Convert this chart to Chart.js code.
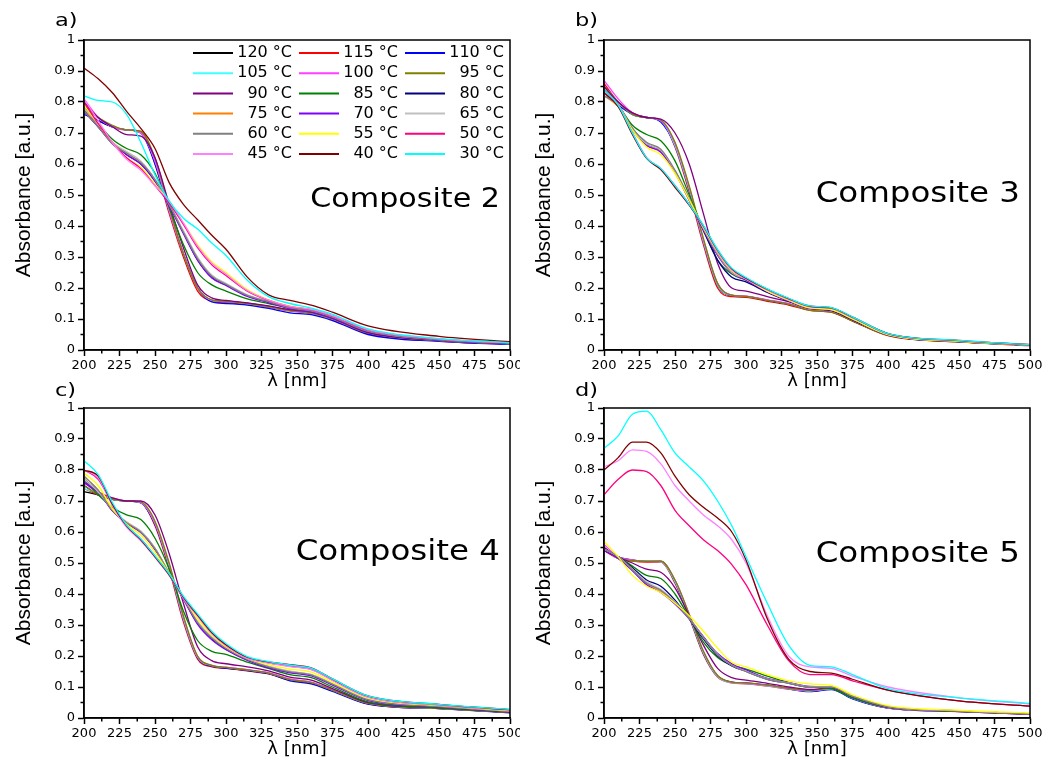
<!DOCTYPE html>
<html>
<head>
<meta charset="utf-8">
<script src="https://cdn.jsdelivr.net/npm/chart.js@4"></script>
<style>
body { margin: 0; background: #fff; }
#wrap { position: relative; width: 1042px; height: 760px; overflow: hidden; background: #fff; }
canvas { position: absolute; }
</style>
</head>
<body>
<div id="wrap">
<canvas id="panelA" width="520" height="392" style="left:0;top:0"></canvas>
<canvas id="panelB" width="522" height="392" style="left:520px;top:0"></canvas>
<canvas id="panelC" width="520" height="380" style="left:0;top:380px"></canvas>
<canvas id="panelD" width="522" height="380" style="left:520px;top:380px"></canvas>
</div>
<script>
// wavelengths (nm) at which the spectra were read
var wavelength = [200,210,220,230,240,250,260,270,280,290,300,315,330,345,360,375,400,450,500];

var temperatures = ['120 °C','115 °C','110 °C','105 °C','100 °C','95 °C','90 °C','85 °C','80 °C',
                    '75 °C','70 °C','65 °C','60 °C','55 °C','50 °C','45 °C','40 °C','30 °C'];

var lineColors = ['#000000','#ff0000','#0000ff','#40ffff','#ff40ff','#808000','#800080','#008000','#000080',
                  '#ff8000','#8000ff','#c0c0c0','#808080','#ffff00','#ff0080','#ff80ff','#800000','#00ffff'];

// absorbance, one row per temperature (same order as temperatures)
var comp2 = [
  [0.77,0.74,0.72,0.71,0.70,0.61,0.45,0.31,0.20,0.160,0.155,0.150,0.140,0.128,0.120,0.100,0.055,0.030,0.020],
  [0.79,0.75,0.72,0.71,0.705,0.60,0.44,0.30,0.19,0.158,0.153,0.148,0.138,0.126,0.118,0.098,0.053,0.029,0.019],
  [0.76,0.74,0.72,0.71,0.70,0.60,0.45,0.31,0.20,0.155,0.150,0.145,0.134,0.120,0.114,0.095,0.050,0.028,0.018],
  [0.80,0.75,0.72,0.71,0.70,0.61,0.45,0.31,0.20,0.160,0.156,0.150,0.140,0.128,0.120,0.100,0.056,0.031,0.020],
  [0.81,0.75,0.72,0.71,0.70,0.61,0.45,0.31,0.20,0.161,0.157,0.151,0.141,0.129,0.121,0.101,0.056,0.031,0.021],
  [0.78,0.75,0.725,0.71,0.705,0.62,0.46,0.31,0.20,0.162,0.157,0.150,0.140,0.127,0.120,0.100,0.055,0.030,0.020],
  [0.80,0.75,0.72,0.695,0.69,0.62,0.47,0.33,0.21,0.168,0.160,0.152,0.142,0.130,0.122,0.102,0.056,0.031,0.021],
  [0.78,0.73,0.68,0.65,0.63,0.57,0.46,0.34,0.25,0.210,0.190,0.165,0.150,0.135,0.125,0.105,0.060,0.032,0.022],
  [0.77,0.72,0.67,0.63,0.60,0.545,0.47,0.38,0.29,0.235,0.210,0.175,0.155,0.135,0.125,0.105,0.060,0.033,0.022],
  [0.78,0.72,0.67,0.635,0.605,0.55,0.47,0.38,0.295,0.240,0.212,0.176,0.156,0.136,0.126,0.106,0.061,0.033,0.022],
  [0.77,0.72,0.665,0.63,0.60,0.545,0.465,0.375,0.29,0.232,0.208,0.173,0.153,0.133,0.123,0.103,0.059,0.032,0.021],
  [0.78,0.73,0.67,0.64,0.61,0.55,0.47,0.385,0.30,0.242,0.215,0.178,0.158,0.138,0.128,0.108,0.062,0.034,0.023],
  [0.77,0.72,0.665,0.635,0.605,0.55,0.47,0.38,0.295,0.238,0.212,0.176,0.156,0.136,0.126,0.106,0.061,0.033,0.022],
  [0.79,0.73,0.67,0.62,0.59,0.535,0.48,0.41,0.34,0.285,0.250,0.195,0.162,0.142,0.132,0.112,0.066,0.036,0.024],
  [0.80,0.73,0.67,0.62,0.585,0.53,0.475,0.405,0.33,0.275,0.240,0.190,0.160,0.140,0.130,0.110,0.065,0.035,0.024],
  [0.81,0.74,0.67,0.615,0.58,0.53,0.48,0.41,0.335,0.28,0.245,0.192,0.161,0.141,0.131,0.111,0.066,0.036,0.024],
  [0.91,0.875,0.83,0.77,0.715,0.65,0.54,0.47,0.42,0.37,0.325,0.235,0.178,0.160,0.145,0.122,0.078,0.044,0.027],
  [0.82,0.805,0.80,0.76,0.67,0.565,0.48,0.425,0.39,0.345,0.305,0.225,0.172,0.150,0.135,0.115,0.068,0.037,0.024]
];

var comp3 = [
  [0.84,0.80,0.76,0.75,0.74,0.66,0.52,0.35,0.21,0.175,0.172,0.160,0.148,0.130,0.124,0.095,0.048,0.027,0.015],
  [0.86,0.80,0.765,0.75,0.74,0.655,0.51,0.34,0.20,0.172,0.170,0.157,0.145,0.128,0.122,0.093,0.046,0.026,0.014],
  [0.83,0.79,0.76,0.75,0.735,0.66,0.52,0.35,0.21,0.176,0.173,0.160,0.148,0.130,0.124,0.095,0.048,0.027,0.015],
  [0.85,0.80,0.76,0.75,0.74,0.66,0.52,0.35,0.21,0.176,0.173,0.161,0.149,0.131,0.125,0.096,0.049,0.027,0.015],
  [0.87,0.81,0.765,0.75,0.74,0.665,0.525,0.355,0.215,0.177,0.174,0.162,0.150,0.132,0.126,0.097,0.049,0.028,0.016],
  [0.85,0.80,0.76,0.75,0.742,0.67,0.53,0.36,0.215,0.177,0.173,0.160,0.148,0.128,0.122,0.094,0.047,0.026,0.015],
  [0.85,0.80,0.765,0.75,0.745,0.70,0.60,0.44,0.28,0.200,0.190,0.172,0.156,0.135,0.128,0.098,0.050,0.028,0.016],
  [0.84,0.79,0.725,0.695,0.675,0.61,0.50,0.39,0.29,0.245,0.225,0.190,0.162,0.138,0.130,0.100,0.050,0.028,0.016],
  [0.82,0.79,0.715,0.665,0.642,0.575,0.485,0.385,0.29,0.235,0.220,0.186,0.158,0.134,0.128,0.098,0.049,0.027,0.016],
  [0.82,0.785,0.71,0.66,0.64,0.575,0.485,0.39,0.31,0.252,0.228,0.190,0.160,0.135,0.130,0.100,0.050,0.028,0.016],
  [0.83,0.79,0.71,0.66,0.638,0.572,0.483,0.388,0.305,0.248,0.226,0.188,0.159,0.134,0.129,0.099,0.049,0.027,0.016],
  [0.82,0.79,0.715,0.665,0.645,0.578,0.488,0.392,0.31,0.25,0.229,0.19,0.16,0.136,0.13,0.10,0.05,0.028,0.016],
  [0.82,0.79,0.715,0.67,0.648,0.58,0.49,0.393,0.312,0.252,0.230,0.191,0.161,0.137,0.131,0.101,0.051,0.028,0.016],
  [0.83,0.79,0.71,0.655,0.63,0.57,0.485,0.395,0.315,0.255,0.229,0.19,0.161,0.136,0.13,0.10,0.05,0.028,0.016],
  [0.84,0.79,0.70,0.62,0.585,0.53,0.47,0.40,0.32,0.26,0.23,0.195,0.165,0.142,0.136,0.106,0.053,0.031,0.017],
  [0.83,0.79,0.70,0.62,0.585,0.528,0.468,0.398,0.318,0.258,0.229,0.194,0.164,0.140,0.135,0.105,0.052,0.030,0.017],
  [0.83,0.785,0.695,0.618,0.582,0.525,0.467,0.40,0.322,0.262,0.232,0.196,0.166,0.141,0.136,0.106,0.053,0.030,0.017],
  [0.84,0.79,0.70,0.62,0.586,0.53,0.47,0.402,0.324,0.264,0.234,0.197,0.167,0.142,0.137,0.107,0.053,0.031,0.017]
];

var comp4 = [
  [0.73,0.72,0.705,0.70,0.695,0.625,0.49,0.32,0.195,0.168,0.162,0.154,0.144,0.124,0.114,0.090,0.047,0.031,0.018],
  [0.74,0.72,0.705,0.70,0.695,0.62,0.48,0.31,0.19,0.165,0.160,0.152,0.142,0.122,0.112,0.088,0.046,0.030,0.018],
  [0.75,0.72,0.705,0.70,0.694,0.625,0.49,0.32,0.195,0.167,0.161,0.153,0.143,0.120,0.110,0.086,0.045,0.030,0.017],
  [0.74,0.725,0.705,0.70,0.695,0.628,0.49,0.32,0.196,0.169,0.163,0.155,0.145,0.125,0.115,0.090,0.048,0.031,0.019],
  [0.76,0.725,0.71,0.70,0.695,0.63,0.495,0.325,0.198,0.170,0.164,0.156,0.146,0.126,0.116,0.091,0.048,0.032,0.019],
  [0.75,0.72,0.705,0.70,0.697,0.635,0.50,0.33,0.20,0.170,0.163,0.155,0.145,0.124,0.114,0.089,0.047,0.031,0.018],
  [0.76,0.73,0.71,0.70,0.70,0.655,0.53,0.37,0.23,0.185,0.175,0.165,0.152,0.132,0.122,0.095,0.050,0.033,0.019],
  [0.77,0.72,0.68,0.655,0.64,0.58,0.48,0.345,0.25,0.215,0.205,0.180,0.160,0.140,0.130,0.100,0.052,0.033,0.020],
  [0.77,0.73,0.67,0.63,0.60,0.545,0.465,0.385,0.305,0.255,0.222,0.188,0.164,0.148,0.138,0.108,0.058,0.037,0.021],
  [0.78,0.735,0.67,0.632,0.602,0.547,0.467,0.387,0.31,0.26,0.226,0.19,0.166,0.15,0.14,0.11,0.06,0.038,0.022],
  [0.76,0.73,0.668,0.628,0.598,0.543,0.463,0.383,0.302,0.252,0.22,0.186,0.162,0.146,0.136,0.106,0.057,0.036,0.021],
  [0.77,0.73,0.672,0.632,0.603,0.548,0.468,0.388,0.312,0.262,0.228,0.191,0.167,0.151,0.141,0.111,0.06,0.038,0.022],
  [0.78,0.735,0.67,0.63,0.60,0.546,0.466,0.386,0.308,0.258,0.224,0.189,0.165,0.149,0.139,0.109,0.059,0.037,0.022],
  [0.79,0.75,0.675,0.625,0.59,0.535,0.465,0.39,0.32,0.268,0.23,0.192,0.172,0.158,0.148,0.115,0.064,0.040,0.024],
  [0.80,0.77,0.69,0.62,0.578,0.522,0.462,0.387,0.33,0.274,0.234,0.194,0.178,0.167,0.157,0.122,0.068,0.042,0.026],
  [0.80,0.775,0.685,0.615,0.572,0.518,0.46,0.386,0.328,0.272,0.233,0.193,0.177,0.166,0.156,0.121,0.067,0.042,0.026],
  [0.80,0.78,0.69,0.62,0.575,0.52,0.462,0.39,0.332,0.276,0.236,0.196,0.181,0.172,0.162,0.126,0.071,0.044,0.027],
  [0.83,0.785,0.695,0.622,0.578,0.523,0.465,0.393,0.336,0.28,0.24,0.198,0.182,0.171,0.161,0.126,0.071,0.044,0.028]
];

var comp5 = [
  [0.55,0.515,0.508,0.505,0.505,0.44,0.33,0.21,0.135,0.115,0.112,0.105,0.095,0.088,0.095,0.065,0.033,0.022,0.013],
  [0.54,0.515,0.506,0.503,0.503,0.435,0.325,0.205,0.132,0.113,0.110,0.103,0.093,0.086,0.093,0.063,0.032,0.021,0.012],
  [0.545,0.52,0.51,0.505,0.505,0.44,0.33,0.21,0.135,0.116,0.113,0.106,0.094,0.085,0.092,0.062,0.032,0.021,0.012],
  [0.55,0.515,0.508,0.505,0.504,0.44,0.33,0.21,0.134,0.114,0.111,0.104,0.094,0.087,0.094,0.064,0.033,0.022,0.013],
  [0.56,0.52,0.51,0.505,0.505,0.445,0.335,0.215,0.136,0.115,0.112,0.105,0.095,0.088,0.095,0.065,0.033,0.022,0.013],
  [0.55,0.515,0.508,0.505,0.506,0.445,0.335,0.215,0.137,0.116,0.113,0.106,0.096,0.089,0.096,0.066,0.034,0.022,0.013],
  [0.55,0.52,0.50,0.48,0.47,0.42,0.33,0.235,0.16,0.13,0.122,0.112,0.100,0.092,0.098,0.067,0.034,0.022,0.013],
  [0.54,0.52,0.49,0.46,0.45,0.40,0.325,0.245,0.195,0.17,0.158,0.135,0.115,0.10,0.095,0.065,0.035,0.022,0.014],
  [0.54,0.52,0.485,0.445,0.425,0.38,0.32,0.255,0.20,0.168,0.15,0.125,0.112,0.10,0.10,0.07,0.037,0.023,0.014],
  [0.545,0.52,0.48,0.435,0.41,0.372,0.322,0.262,0.205,0.172,0.152,0.127,0.113,0.101,0.101,0.071,0.037,0.023,0.014],
  [0.54,0.515,0.475,0.43,0.405,0.368,0.32,0.262,0.208,0.175,0.155,0.128,0.114,0.102,0.10,0.07,0.037,0.023,0.014],
  [0.545,0.52,0.48,0.44,0.415,0.375,0.322,0.26,0.205,0.17,0.151,0.126,0.113,0.101,0.101,0.071,0.037,0.023,0.014],
  [0.545,0.52,0.478,0.435,0.412,0.372,0.321,0.26,0.204,0.17,0.15,0.125,0.112,0.10,0.10,0.07,0.037,0.023,0.014],
  [0.57,0.52,0.46,0.425,0.405,0.37,0.33,0.28,0.225,0.18,0.165,0.14,0.12,0.11,0.105,0.075,0.04,0.025,0.016],
  [0.72,0.77,0.80,0.795,0.75,0.67,0.62,0.575,0.54,0.495,0.43,0.30,0.185,0.14,0.14,0.12,0.09,0.055,0.038],
  [0.81,0.83,0.865,0.86,0.82,0.75,0.70,0.655,0.62,0.575,0.50,0.33,0.20,0.165,0.16,0.135,0.10,0.065,0.045],
  [0.80,0.84,0.89,0.89,0.855,0.78,0.72,0.68,0.645,0.60,0.51,0.32,0.19,0.15,0.145,0.125,0.09,0.055,0.038],
  [0.87,0.91,0.98,0.99,0.93,0.855,0.81,0.765,0.70,0.62,0.52,0.37,0.235,0.17,0.165,0.14,0.095,0.065,0.047]
];

Chart.defaults.font.family = '"DejaVu Sans"';
Chart.defaults.color = '#000';

function toPoints(row) {
    return row.map(function (v, i) { return { x: wavelength[i], y: v }; });
}

// text in the original figure is drawn a bit wider than the font
function drawWide(ctx, text, x, y, font, sx, align) {
    ctx.save();
    ctx.font = font;
    ctx.fillStyle = '#000';
    ctx.textAlign = align;
    ctx.textBaseline = 'alphabetic';
    ctx.translate(x, y);
    ctx.scale(sx, 1);
    ctx.fillText(text, 0, 0);
    ctx.restore();
}

function drawLegend(chart) {
    var ctx = chart.ctx;
    ctx.save();
    ctx.font = '16px "DejaVu Sans"';
    ctx.textAlign = 'right';
    ctx.textBaseline = 'middle';
    chart.data.datasets.forEach(function (ds, i) {
        var col = i % 3, row = Math.floor(i / 3);
        var x0 = 193 + col * 106, y = 53 + row * 20.2;
        ctx.strokeStyle = ds.borderColor;
        ctx.lineWidth = 2;
        ctx.beginPath();
        ctx.moveTo(x0, y);
        ctx.lineTo(x0 + 40, y);
        ctx.stroke();
        ctx.fillStyle = '#000';
        ctx.fillText(ds.label, x0 + 99, y);
    });
    ctx.restore();
}

function decorPlugin(opts) {
    return {
        id: 'decor',
        afterDraw: function (chart) {
            var ctx = chart.ctx, area = chart.chartArea;
            var xs = chart.scales.x, ys = chart.scales.y;
            ctx.save();
            ctx.strokeStyle = '#000';
            ctx.lineWidth = 1.5;
            ctx.strokeRect(area.left, area.top, area.right - area.left, area.bottom - area.top);
            // minor ticks
            ctx.beginPath();
            for (var v = 212.5; v < 500; v += 25) {
                var px = xs.getPixelForValue(v);
                ctx.moveTo(px, area.bottom);
                ctx.lineTo(px, area.bottom + 3.5);
            }
            for (var k = 0; k < 10; k++) {
                var py = ys.getPixelForValue(k / 10 + 0.05);
                ctx.moveTo(area.left, py);
                ctx.lineTo(area.left - 3.5, py);
            }
            ctx.stroke();
            ctx.restore();

            drawWide(ctx, opts.letter, 55, opts.letterY, '18px "DejaVu Sans"', 1.25, 'left');
            drawWide(ctx, opts.name, area.right - 10, opts.nameY, opts.nameFont, 1.16, 'right');
            if (opts.legend) drawLegend(chart);
        }
    };
}

function makePanel(id, rows, opts) {
    var ctx = document.getElementById(id).getContext('2d');
    return new Chart(ctx, {
        type: 'line',
        data: {
            datasets: rows.map(function (row, i) {
                return {
                    label: temperatures[i],
                    data: toPoints(row),
                    borderColor: lineColors[i],
                    borderWidth: 1.3,
                    pointRadius: 0,
                    fill: false,
                    cubicInterpolationMode: 'monotone',
                    order: temperatures.length - i
                };
            })
        },
        options: {
            responsive: false,
            animation: false,
            events: [],
            layout: { padding: { left: 12, top: opts.top, right: opts.right, bottom: 0 } },
            plugins: { legend: { display: false }, tooltip: { enabled: false } },
            scales: {
                x: {
                    type: 'linear',
                    min: 200,
                    max: 500,
                    ticks: { stepSize: 25, autoSkip: false, maxRotation: 0, padding: 2, font: { size: 13 } },
                    grid: { drawOnChartArea: false, drawTicks: true, tickLength: 6, tickWidth: 1.5, tickColor: '#000' },
                    border: { display: true, color: '#000', width: 1.5 },
                    title: { display: true, text: 'λ [nm]', font: { size: 18 }, padding: 0 },
                    afterFit: function (s) { s.height = opts.xHeight; s.paddingLeft = 0; s.paddingRight = 0; }
                },
                y: {
                    min: 0,
                    max: 1,
                    ticks: {
                        stepSize: 0.1,
                        padding: 3,
                        font: { size: 13 },
                        callback: function (v) { return +v.toFixed(1); }
                    },
                    grid: { drawOnChartArea: false, drawTicks: true, tickLength: 6, tickWidth: 1.5, tickColor: '#000' },
                    border: { display: true, color: '#000', width: 1.5 },
                    title: {
                        display: true,
                        text: 'Absorbance [a.u.]',
                        font: { family: '"Liberation Sans"', size: 21 },
                        padding: 0
                    },
                    afterFit: function (s) { s.width = 72; s.paddingTop = 0; s.paddingBottom = 0; }
                }
            }
        },
        plugins: [decorPlugin(opts)]
    });
}

makePanel('panelA', comp2, { top: 40, right: 10, xHeight: 42, letter: 'a)', letterY: 26,
    name: 'Composite 2', nameY: 207, nameFont: '26px "DejaVu Sans"', legend: true });
makePanel('panelB', comp3, { top: 40, right: 12, xHeight: 42, letter: 'b)', letterY: 26,
    name: 'Composite 3', nameY: 202, nameFont: '28px "DejaVu Sans"', legend: false });
makePanel('panelC', comp4, { top: 28, right: 10, xHeight: 42, letter: 'c)', letterY: 16,
    name: 'Composite 4', nameY: 180, nameFont: '28px "DejaVu Sans"', legend: false });
makePanel('panelD', comp5, { top: 28, right: 12, xHeight: 42, letter: 'd)', letterY: 16,
    name: 'Composite 5', nameY: 182, nameFont: '28px "DejaVu Sans"', legend: false });
</script>
</body>
</html>
